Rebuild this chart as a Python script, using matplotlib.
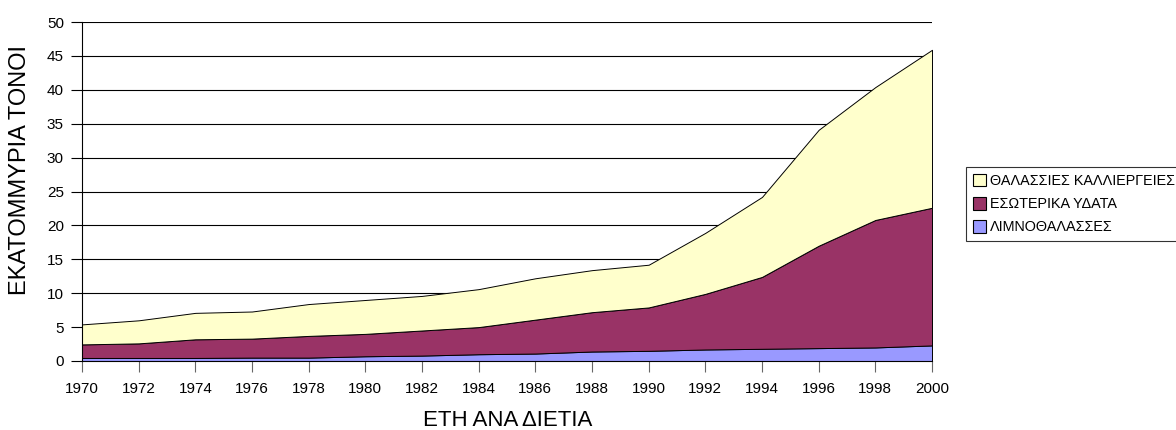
import matplotlib
matplotlib.use("Agg")
import matplotlib.pyplot as plt
from matplotlib.patches import Patch

years = [1970, 1972, 1974, 1976, 1978, 1980, 1982, 1984, 1986, 1988, 1990, 1992, 1994, 1996, 1998, 2000]
# cumulative tops
total = [5.4, 6.0, 7.1, 7.3, 8.4, 9.0, 9.6, 10.6, 12.2, 13.4, 14.2, 18.9, 24.2, 34.1, 40.4, 45.9]
mid_top = [2.45, 2.6, 3.2, 3.3, 3.7, 4.0, 4.5, 5.0, 6.1, 7.2, 7.9, 9.9, 12.4, 17.0, 20.8, 22.6]
lagoons = [0.45, 0.45, 0.45, 0.5, 0.5, 0.7, 0.8, 1.0, 1.1, 1.4, 1.5, 1.7, 1.8, 1.9, 2.0, 2.3]

inland = [m - l for m, l in zip(mid_top, lagoons)]
marine = [t - m for t, m in zip(total, mid_top)]

labels = ["ΛΙΜΝΟΘΑΛΑΣΣΕΣ", "ΕΣΩΤΕΡΙΚΑ ΥΔΑΤΑ", "ΘΑΛΑΣΣΙΕΣ ΚΑΛΛΙΕΡΓΕΙΕΣ"]
colors = ["#9999FF", "#993366", "#FFFFCC"]
y_ticks = list(range(0, 51, 5))

plt.rcParams['font.family'] = ['Liberation Sans', 'DejaVu Sans']

W, H = 1176, 430
fig = plt.figure(figsize=(W / 100, H / 100), dpi=100)
ax = fig.add_axes([82 / W, 1 - 361 / H, (932 - 82) / W, (361 - 22) / H])

ax.stackplot(years, lagoons, inland, marine, colors=colors,
             edgecolor="black", linewidth=0.7, zorder=2)

ax.set_xlim(years[0], years[-1])
ax.set_ylim(0, 50)
ax.set_xticks(years)
ax.set_yticks(y_ticks)
ax.yaxis.grid(True, color="black", linewidth=0.8, zorder=0)
ax.set_axisbelow(True)
for s in ["top", "right"]:
    ax.spines[s].set_visible(False)
ax.spines["left"].set_color("black")
ax.spines["bottom"].set_color("black")
ax.tick_params(axis="both", labelsize=11, direction="out", length=8, width=0.8,
               colors="black", pad=5)
ax.tick_params(axis="x", color="#666666", length=8, pad=7)

fig.text(508 / W, 1 - 421 / H, "ΕΤΗ ΑΝΑ ΔΙΕΤΙΑ", fontsize=16, ha="center", va="center")
fig.text(20 / W, 1 - 170 / H, "ΕΚΑΤΟΜΜΥΡΙΑ ΤΟΝΟΙ", fontsize=17, ha="center", va="center",
         rotation=90)

handles = [Patch(facecolor=colors[i], edgecolor="black", linewidth=0.8, label=labels[i]) for i in [2, 1, 0]]
leg = fig.legend(handles=handles, loc="upper left", bbox_to_anchor=(966 / W, 1 - 167 / H),
                 fontsize=10.4, frameon=True, fancybox=False, edgecolor="black",
                 handlelength=0.95, handleheight=1.0, handletextpad=0.25, labelspacing=0.6,
                 borderpad=0.45, borderaxespad=0)
leg.get_frame().set_linewidth(0.8)

fig.savefig("out.png", dpi=100)
